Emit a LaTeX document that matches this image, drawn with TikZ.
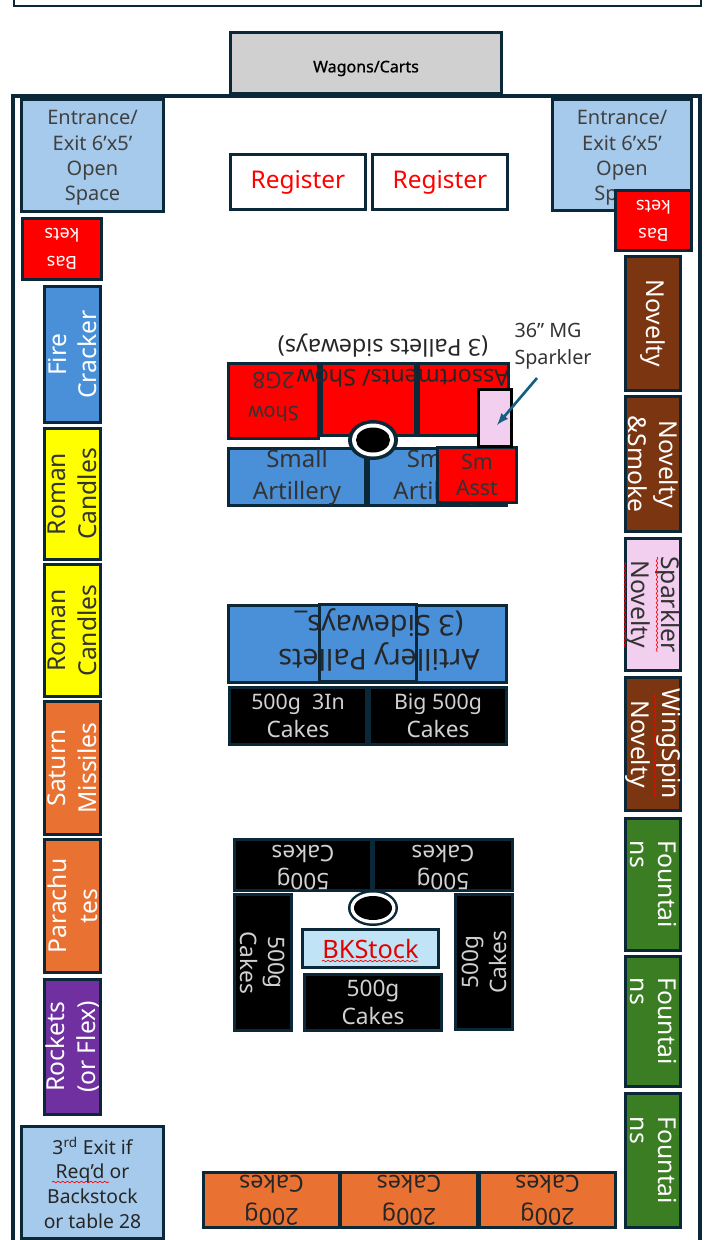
\documentclass[tikz,border=0pt]{standalone}
\usepackage{fontspec}
\setmainfont{Noto Sans}
\usetikzlibrary{decorations.pathmorphing,shapes.geometric}

\definecolor{framecol}{RGB}{10,40,56}
\definecolor{exitblue}{RGB}{166,202,236}
\definecolor{palblue}{RGB}{74,144,217}
\definecolor{palred}{RGB}{255,0,0}
\definecolor{palyellow}{RGB}{255,255,0}
\definecolor{palorange}{RGB}{233,113,50}
\definecolor{palpurple}{RGB}{112,48,160}
\definecolor{palbrown}{RGB}{123,53,16}
\definecolor{palgreen}{RGB}{59,125,35}
\definecolor{palpink}{RGB}{242,206,239}
\definecolor{stockblue}{RGB}{192,228,245}
\definecolor{arrowblue}{RGB}{21,96,130}

\tikzset{
	every picture/.style={line width=0.75pt},
	pal/.style={draw=framecol,line width=2.3pt,inner sep=0pt,align=center},
	box/.style 2 args={minimum width=(#1-2.5)*0.75pt,minimum height=(#2-2.5)*0.75pt},
	txt/.style 2 args={font=\fontsize{#1}{#2}\selectfont},
	side/.style={txt={18.5}{23}},
	sidefoun/.style={txt={18.5}{21}},
	cakes/.style={txt={17}{21},text=white!82!black},
	squig/.style={red,line width=0.5pt,decorate,decoration={snake,amplitude=0.6pt,segment length=3.5pt}},
}

\begin{document}
\begin{tikzpicture}[x=0.75pt,y=0.75pt,yscale=-1,xscale=1]
	\useasboundingbox (0,0) rectangle (712,1240);
	\clip (0,0) rectangle (712,1240);

	%Shape: top frame and room
	\draw [framecol,line width=2pt] (14,-10) rectangle (701,6) ;
	\draw [framecol,line width=2.3pt] (13,96) rectangle (700,1260) ;
	\node [pal,box={274}{64},fill={rgb,255:red,208;green,208;blue,208},txt={12}{12},text=black] (wagons) at (366,63) {\raisebox{-4.5pt}[8pt][3pt]{\addfontfeature{FakeBold=1}Wagons/Carts}};

	%Entrances and registers
	\node [pal,box={145}{115},fill=exitblue] (entryl) at (92.5,155.5) {};
	\node [pal,box={142}{114},fill=exitblue] (entryr) at (622,155) {};
	% Text Node
	\node [align=center,inner sep=0pt,txt={15}{19},text=black!75] (entryltxt) at (92.5,158) {Entrance/\\Exit 6’x5’\\Open\\Space};
	% Text Node
	\node [align=center,inner sep=0pt,txt={15}{19},text=black!75] (entryrtxt) at (622,158) {Entrance/\\Exit 6’x5’\\Open\\Space};
	\node [pal,box={138}{58},fill=white,txt={18.3}{20},text=red] (regl) at (298,182) {Register};
	\node [pal,box={138}{58},fill=white,txt={18.3}{20},text=red] (regr) at (440,182) {Register};
	\node [pal,box={82}{64},fill=palred,rotate=180,txt={13.5}{21},text=white] (baskl) at (62,249) {Bas\\kets};
	\node [pal,box={79}{63},fill=palred,rotate=180,txt={13.5}{21},text=white] (baskr) at (653.5,220.5) {Bas\\kets};

	%Left column
	\node [pal,box={139}{59},fill=palblue,rotate=90,side,text=white] (fire) at (72.5,354.5) {Fire\\Cracker};
	\node [pal,box={134}{59},fill=palyellow,rotate=90,side,text=black!80] (romana) at (72.5,494) {Roman\\Candles};
	\node [pal,box={135}{59},fill=palyellow,rotate=90,side,text=black!80] (romanb) at (72.5,630.5) {Roman\\Candles};
	\node [pal,box={136}{59},fill=palorange,rotate=90,side,text=white] (saturn) at (72.5,768) {Saturn\\Missiles};
	\node [pal,box={136}{59},fill=palorange,rotate=90,side,text=white] (para) at (72.5,906) {Parachu\\tes};
	\node [pal,box={138}{59},fill=palpurple,rotate=90,side,text=white] (rockets) at (72.5,1047) {Rockets\\(or Flex)};
	\node [pal,box={145}{115},fill=exitblue,txt={14.5}{18.5},text=black!85] (exit) at (92.5,1182.5) {3\textsuperscript{rd} Exit if\\Req’d or\\Backstock\\or table 28};

	%Right column
	\node [pal,box={137}{58},fill=palbrown,rotate=-90,side,text=white] (nova) at (653,323.5) {Novelty};
	\node [pal,box={138}{58},fill=palbrown,rotate=-90,side,text=white] (novb) at (653,464) {Novelty\\\&Smoke};
	\node [pal,box={135}{58},fill=palpink,rotate=-90,side,text=black!80] (spark) at (653,604.5) {Sparkler\\Novelty};
	\node [pal,box={136}{58},fill=palbrown,rotate=-90,side,text=white] (wing) at (653,744) {WingSpin\\Novelty};
	\node [pal,box={135}{58},fill=palgreen,rotate=-90,sidefoun,text=white,align=left] (founa) at (653,884.5) {Fountai\\ns};
	\node [pal,box={133}{58},fill=palgreen,rotate=-90,sidefoun,text=white,align=left] (founb) at (653,1021.5) {Fountai\\ns};
	\node [pal,box={137}{58},fill=palgreen,rotate=-90,sidefoun,text=white,align=left] (founc) at (653,1160.5) {Fountai\\ns};

	%Assortment pallets
	\node [txt={17.5}{20},rotate=180,text=black!85] (assocap) at (383,346) {(3 Pallets sideways)};
	\node [pal,box={93}{78},fill=palred] (show) at (273.5,401) {};
	\node [pal,box={97}{75},fill=palred] (assob) at (368.5,399.5) {};
	\node [pal,box={93}{75},fill=palred] (assoc) at (463.5,399.5) {};
	% Text Node
	\node [align=center,inner sep=0pt,rotate=180,txt={15}{25},text=black!80] (showtxt) at (273.5,397) {Show\\{\fontsize{17}{17}\selectfont 2G8}};
	% Text Node
	\node [txt={17.5}{20},rotate=180,text=black!85] (assotxt) at (403,378) {Assortments/ Show};
	\node [pal,box={140}{60},fill=palblue,txt={18}{24},text=black!80] (smalla) at (297,477) {Small\\Artillery};
	\node [pal,box={141}{60},fill=palblue,txt={18}{24},text=black!80] (smallb) at (437.5,477) {Small\\Artillery};
	\node [ellipse,minimum width=50*0.75pt,minimum height=40*0.75pt,inner sep=0pt,fill=framecol] (holea) at (373,440) {};
	\node [ellipse,minimum width=42*0.75pt,minimum height=33*0.75pt,inner sep=0pt,fill=white] (ringa) at (373,440) {};
	\node [ellipse,minimum width=34*0.75pt,minimum height=25*0.75pt,inner sep=0pt,fill=black] (blacka) at (373,440) {};
	\node [pal,box={81}{58},fill=palred,txt={16}{20},text=black!80] (smasst) at (477,475) {Sm\\Asst};
	\node [draw=black,line width=2.2pt,box={36}{60},fill=palpink,inner sep=0pt] (mg) at (495,418) {};
	\node [txt={14.8}{20},align=left,text=black!80,anchor=north west,inner sep=0pt] (mglabel) at (514,323) {36” MG\\Sparkler};
	\coordinate (mgtail) at (537,378);
	\coordinate (mgtip) at (497,425);
	\draw [arrowblue,line width=2pt,-latex] (mgtail) -- (mgtip) ;

	%Artillery pallets
	\node [pal,box={281}{80},fill=palblue] (artl) at (367.5,644) {};
	\node [pal,box={100}{80},fill=palblue] (artm) at (368,643) {};
	% Text Node
	\node [txt={21.5}{26},rotate=180,align=center,text=black!85] (arttxt) at (379,640) {Artillery Pallets\\(3 Sideways\_};
	\node [pal,box={140}{59},fill=black,cakes] (cakea) at (298,716) {\fontsize{16}{21}\selectfont 500g\ \ 3In\\Cakes};
	\node [pal,box={140}{59},fill=black,cakes] (cakeb) at (438,716) {\fontsize{16}{21}\selectfont Big 500g\\Cakes};

	%500g pallets
	\node [pal,box={140}{54},fill=black] (caketl) at (303,865) {};
	\node [pal,box={141}{54},fill=black] (caketr) at (443,865) {};
	% Text Node
	\node [align=center,inner sep=0pt,rotate=180,cakes] (caketltxt) at (303,868) {500g\\Cakes};
	% Text Node
	\node [align=center,inner sep=0pt,rotate=180,cakes] (caketrtxt) at (443,868) {500g\\Cakes};
	\node [pal,box={139}{60},fill=black,rotate=-90,cakes] (cakel) at (263,962.5) {500g\\Cakes};
	\node [pal,box={138}{60},fill=black,rotate=90,cakes] (caker) at (484,962) {500g\\Cakes};
	\node [ellipse,minimum width=50*0.75pt,minimum height=36*0.75pt,inner sep=0pt,fill=framecol] (holeb) at (373,908) {};
	\node [ellipse,minimum width=45*0.75pt,minimum height=31*0.75pt,inner sep=0pt,fill=white] (ringb) at (373,908) {};
	\node [ellipse,minimum width=38*0.75pt,minimum height=24*0.75pt,inner sep=0pt,fill=black] (blackb) at (373,908) {};
	\node [pal,box={139}{41},fill=stockblue,txt={19}{20},text=red!90!black] (stock) at (370.5,948.5) {BKStock};
	\node [pal,box={140}{59},fill=black,cakes] (cakec) at (373,1002.5) {500g\\Cakes};

	%200g pallets
	\node [pal,box={138}{58},fill=palorange,rotate=180,txt={17.5}{25},text=black!85] (orea) at (271.5,1200) {200g\\Cakes};
	\node [pal,box={139}{58},fill=palorange,rotate=180,txt={17.5}{25},text=black!85] (oreb) at (409,1200) {200g\\Cakes};
	\node [pal,box={139}{58},fill=palorange,rotate=180,txt={17.5}{25},text=black!85] (orec) at (547.5,1200) {200g\\Cakes};

	%Spelling marks
	\draw [squig] (462,472) -- (493,472) ;
	\draw [squig] (322,961) -- (418,961) ;
	\draw [squig] (52,1182) -- (109,1182) ;
	\draw [squig] (657,557) -- (657,652) ;
	\draw [squig] (625,562) -- (625,648) ;
	\draw [squig] (655,693) -- (655,797) ;

\end{tikzpicture}
\end{document}
